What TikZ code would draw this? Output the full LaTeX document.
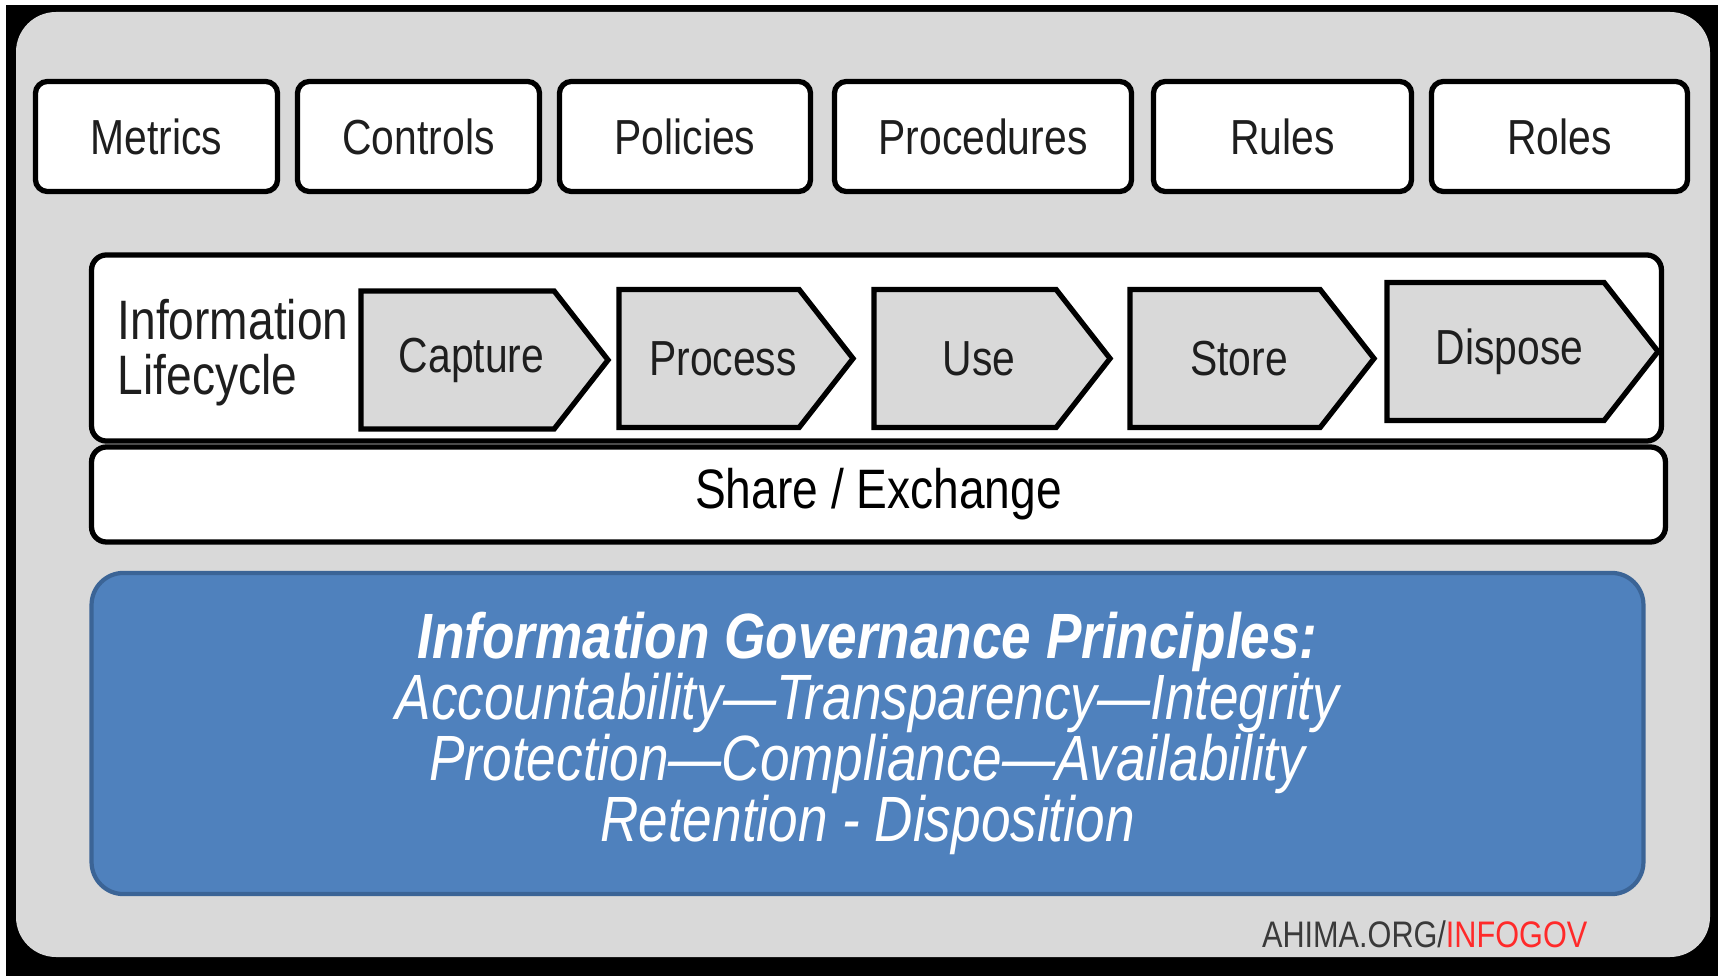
\documentclass[tikz,border=0pt]{standalone}
\usepackage{fontspec}
\setmainfont{Liberation Sans}[FakeStretch=0.83]
\usetikzlibrary{shapes.symbols}
\definecolor{panelgrey}{HTML}{D9D9D9}
\definecolor{govblue}{HTML}{4F81BD}
\definecolor{govedge}{HTML}{3B6496}
\definecolor{inkgrey}{HTML}{1E1E1E}
\definecolor{linkgrey}{HTML}{3A3A3A}
\definecolor{linkred}{HTML}{FF2A2A}
\begin{document}
\begin{tikzpicture}[x=0.01cm,y=-0.01cm,
    toolbox/.style={draw,line width=1.5pt,fill=white,rounded corners=0.12cm,
      minimum height=1.1cm,inner sep=0pt,text=inkgrey,font=\fontsize{14}{16}\selectfont},
    stage/.style={signal,signal to=east,signal pointer angle=104,draw,line width=1.5pt,
      fill=panelgrey,minimum height=1.38cm,inner sep=0pt,text=inkgrey,
      font=\fontsize{14}{16}\selectfont,execute at begin node=\hspace*{0.28cm}},
    band/.style={draw,line width=1.5pt,fill=white,rounded corners=0.15cm,inner sep=0pt}]
  \useasboundingbox (0,0) rectangle (1723,976);
  \fill[black] (6,5) rectangle (1718,976);
  \fill[panelgrey,rounded corners=0.4cm] (16,12) rectangle (1710,957);
  % top row
  \node[toolbox,minimum width=2.42cm] (metrics) at (156.5,136.5) {Metrics};
  \node[toolbox,minimum width=2.42cm] (controls) at (418.5,136.5) {Controls};
  \node[toolbox,minimum width=2.51cm] (policies) at (685,136.5) {Policies};
  \node[toolbox,minimum width=2.97cm] (procedures) at (983,136.5) {Procedures};
  \node[toolbox,minimum width=2.58cm] (rules) at (1282.5,136.5) {Rules};
  \node[toolbox,minimum width=2.56cm] (roles) at (1559.5,136.5) {Roles};
  % lifecycle
  \node[band,minimum width=15.69cm,minimum height=1.86cm] (cycle) at (876.5,348) {};
  \node[band,minimum width=15.73cm,minimum height=0.95cm,
    font=\fontsize{15.8}{18}\selectfont] (share) at (878.5,494.5) {Share / Exchange};
  \node[anchor=west,align=left,inner sep=0pt,text=inkgrey,
    font=\fontsize{15.8}{15.6}\selectfont] (lifecycle) at (117,353) {Information\\Lifecycle};
  \node[stage,minimum width=2.47cm] (capture) at (457.5,360) {Capture};
  \node[stage,minimum width=2.34cm] (process) at (709,358.5) {Process};
  \node[stage,minimum width=2.36cm] (use) at (965,358.5) {Use};
  \node[stage,minimum width=2.44cm] (store) at (1225,358.5) {Store};
  \node[stage,minimum width=2.71cm] (dispose) at (1495.5,351.5) {Dispose};
  % principles
  \node[draw=govedge,line width=1.2pt,fill=govblue,rounded corners=0.32cm,
    minimum width=15.51cm,minimum height=3.21cm,text=white,align=center,
    font=\fontsize{18.2}{17.4}\selectfont\itshape] (principles) at (867.5,733.5)
    {\textbf{Information Governance Principles:}\\
     Accountability---Transparency---Integrity\\
     Protection---Compliance---Availability\\
     Retention - Disposition};
  \node[anchor=base east,inner sep=0pt,font=\fontsize{10.5}{12}\selectfont] (source)
    at (1588,947) {\textcolor{linkgrey}{AHIMA.ORG/}\textcolor{linkred}{INFOGOV}};
\end{tikzpicture}
\end{document}
